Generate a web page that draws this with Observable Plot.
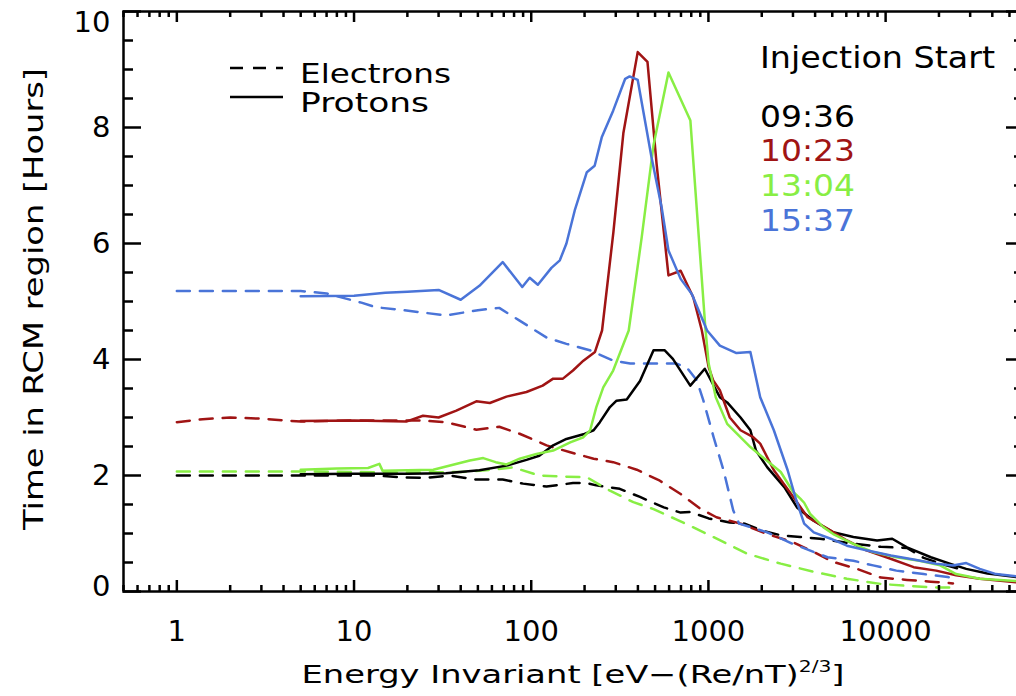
<!DOCTYPE html>
<html><head><meta charset="utf-8">
<script src="https://cdn.jsdelivr.net/npm/d3@7"></script>
<script src="https://cdn.jsdelivr.net/npm/@observablehq/plot@0.6"></script>
<style>
html,body{margin:0;padding:0;background:#fff;overflow:hidden;}
#chart svg{display:block;max-width:none !important;}
</style></head><body><div id="chart"></div>
<script>
// Injection start times and their colours
const times = ["09:36", "10:23", "13:04", "15:37"];
const colors = ["#000000", "#a01414", "#88ee44", "#4a74d8"];
const xMajorTicks = [1, 10, 100, 1000, 10000];
const yMajorTicks = [0, 2, 4, 6, 8, 10];

// Electrons (dashed): [energy invariant, hours]
const electrons_0936 = [[1,2.0],[2,2.0],[5,2.0],[10,2.0],[13.3,2.0],[18,1.97],[25.5,1.96],[34.6,2.0],[49,1.93],[69,1.93],[90,1.86],[122,1.81],[172,1.87],[206,1.87],[233,1.83],[316,1.77],[411,1.63],[560,1.45],[697,1.36],[790,1.37],[1003,1.26],[1320,1.19],[1600,1.17],[2000,1.05],[2560,0.97],[3300,0.94],[4270,0.91],[6050,0.84],[9400,0.77],[13200,0.75],[16400,0.58],[22000,0.45],[28500,0.36]];
const electrons_1023 = [[1,2.92],[1.4,2.97],[2,3.0],[3,2.98],[5,2.93],[10,2.95],[23,2.95],[33,2.92],[49,2.79],[66,2.84],[86,2.72],[122,2.52],[166,2.40],[225,2.29],[290,2.23],[394,2.10],[532,1.91],[697,1.68],[897,1.43],[1110,1.28],[1518,1.17],[2150,0.99],[3000,0.85],[3930,0.68],[5060,0.51],[6900,0.39],[9400,0.24],[13200,0.20],[18000,0.17],[24000,0.14]];
const electrons_1304 = [[1,2.07],[2,2.07],[5,2.07],[10,2.06],[20,2.05],[40,2.06],[60,2.1],[79,2.14],[111,2.0],[158,1.98],[206,1.97],[266,1.77],[377,1.54],[490,1.42],[662,1.24],[897,1.05],[1064,0.94],[1660,0.65],[2560,0.48],[3930,0.34],[6050,0.22],[9400,0.13],[14400,0.09],[19300,0.07],[25000,0.07]];
const electrons_1537 = [[1,5.18],[2,5.18],[5,5.18],[7,5.14],[9,5.05],[11,4.98],[13.3,4.9],[18,4.86],[33,4.76],[50,4.85],[66,4.89],[86,4.67],[122,4.38],[158,4.27],[214,4.16],[291,3.98],[362,3.93],[490,3.93],[662,3.93],[760,3.85],[860,3.64],[937,3.29],[1070,2.66],[1217,2.09],[1380,1.40],[1490,1.17],[2150,1.02],[3000,0.82],[4700,0.59],[6580,0.53],[8500,0.45],[11500,0.36],[16400,0.30],[22400,0.25],[25000,0.22]];

// Protons (solid)
const protons_0936 = [[5,2.02],[10,2.03],[20,2.03],[33,2.04],[51,2.09],[72.5,2.17],[94,2.27],[111,2.34],[133,2.52],[158,2.63],[197,2.71],[225,2.78],[244,2.92],[278,3.18],[303,3.29],[346,3.31],[377,3.47],[411,3.63],[490,4.16],[565,4.16],[630,4.01],[790,3.55],[954,3.84],[1160,3.35],[1276,3.26],[1518,3.0],[1725,2.78],[1855,2.43],[2150,2.14],[2680,1.80],[3160,1.45],[3930,1.22],[5060,1.02],[6580,0.94],[8950,0.88],[10900,0.91],[13200,0.76],[18000,0.59],[23000,0.48],[28500,0.39],[37600,0.31],[55000,0.25],[60000,0.24]];
const protons_1023 = [[5,2.94],[10,2.95],[19.7,2.93],[24.5,3.03],[30,3.0],[37.8,3.12],[49,3.28],[58.4,3.25],[72.5,3.36],[94,3.44],[116,3.55],[133,3.67],[151,3.67],[172,3.81],[197,3.98],[229,4.13],[251,4.5],[291,6.2],[331,7.9],[399,9.30],[453,9.13],[510,7.37],[595,5.45],[697,5.53],[822,5.07],[918,4.5],[1003,3.87],[1064,3.64],[1160,3.47],[1320,3.0],[1518,2.78],[1790,2.66],[1960,2.55],[2340,2.09],[2930,1.68],[3630,1.28],[4900,1.05],[6050,0.88],[7790,0.71],[10100,0.59],[14400,0.42],[19300,0.36],[25000,0.28],[34000,0.22],[55000,0.16],[60000,0.15]];
const protons_1304 = [[5,2.1],[8,2.12],[12,2.13],[13.9,2.2],[14.5,2.08],[20,2.09],[28,2.1],[45,2.26],[53.6,2.3],[63,2.23],[72.5,2.19],[86,2.29],[107,2.37],[133,2.43],[166,2.57],[197,2.66],[215,2.78],[233,3.18],[255,3.52],[290,3.81],[355,4.5],[420,6.1],[490,7.7],[595,8.95],[791,8.12],[960,4.56],[1003,3.93],[1100,3.35],[1276,2.89],[1725,2.49],[2560,2.06],[3000,1.72],[3300,1.6],[3470,1.53],[3750,1.34],[4450,1.11],[5060,0.99],[6580,0.82],[8500,0.68],[11500,0.59],[15500,0.53],[20300,0.45],[25000,0.30],[34000,0.22],[55000,0.18],[60000,0.17]];
const protons_1537 = [[5,5.09],[10,5.1],[15,5.15],[20,5.17],[30,5.2],[40,5.03],[51,5.27],[69,5.68],[89,5.25],[98,5.41],[109,5.29],[130,5.58],[145,5.71],[158,6.0],[176,6.57],[206,7.23],[228,7.34],[250,7.83],[290,8.29],[339,8.84],[359,8.88],[399,8.82],[477,7.49],[544,6.63],[595,5.88],[697,5.39],[806,5.13],[983,4.5],[1160,4.24],[1440,4.11],[1725,4.13],[1960,3.35],[2340,2.78],[2800,2.09],[3090,1.63],[3470,1.17],[3930,1.02],[4900,0.91],[6050,0.79],[7790,0.71],[10700,0.62],[14400,0.55],[19300,0.48],[24000,0.45],[28500,0.49],[34000,0.39],[42000,0.30],[55000,0.26],[60000,0.25]];

const electronSeries = [electrons_0936, electrons_1023, electrons_1304, electrons_1537];
const protonSeries = [protons_0936, protons_1023, protons_1304, protons_1537];
const toRows = list => list.flatMap((s, i) => s.map(([x, y]) => ({x, y, time: times[i]})));
const elecRows = toRows(electronSeries);
const protRows = toRows(protonSeries);

// minor ticks (axis structure)
const minorX = [];
for (let e = -1; e <= 4; e++) for (let m = 2; m <= 9; m++) { const v = m * Math.pow(10, e); if (v >= 0.5 && v <= 60000) minorX.push(v); }
const minorY = d3.range(0.5, 10, 0.5).filter(v => v % 2 !== 0);

const plotH = 696 - 11 - 105;
const tk = {stroke: "black", strokeWidth: 2.5};
const chart = Plot.plot({
  width: 1030, height: 696,
  marginTop: 11, marginBottom: 105, marginLeft: 123, marginRight: 7,
  x: {type: "log", domain: [0.5, 60000]},
  y: {domain: [0, 10]},
  color: {domain: times, range: colors},
  style: {fontFamily: "DejaVu Sans"},
  marks: [
    Plot.line(elecRows, {x: "x", y: "y", z: "time", stroke: "time", strokeWidth: 2.5, strokeDasharray: "13,10"}),
    Plot.line(protRows, {x: "x", y: "y", z: "time", stroke: "time", strokeWidth: 2.5}),
    // inward ticks on all four sides
    Plot.tickX(xMajorTicks, {x: d => d, ...tk, insetTop: plotH - 11}),
    Plot.tickX(minorX, {x: d => d, ...tk, insetTop: plotH - 6}),
    Plot.tickX(xMajorTicks, {x: d => d, ...tk, insetBottom: plotH - 11}),
    Plot.tickX(minorX, {x: d => d, ...tk, insetBottom: plotH - 6}),
    Plot.axisY({anchor: "left", ticks: yMajorTicks, tickSize: -18, ...tk, fill: "none", label: null}),
    Plot.axisY({anchor: "left", ticks: minorY, tickSize: -10, ...tk, fill: "none", label: null}),
    Plot.axisY({anchor: "right", ticks: yMajorTicks, tickSize: -18, ...tk, fill: "none", label: null}),
    Plot.axisY({anchor: "right", ticks: minorY, tickSize: -10, ...tk, fill: "none", label: null}),
    // tick labels
    Plot.axisX({anchor: "bottom", ticks: xMajorTicks, tickSize: 0, tickPadding: 29, tickFormat: d => String(d), fontSize: 29, label: null}),
    Plot.axisY({anchor: "left", ticks: [2, 4, 6, 8], tickSize: 0, tickPadding: 13, tickFormat: d => String(d), fontSize: 29, label: null}),
    Plot.axisY({anchor: "left", ticks: [10], tickSize: 0, tickPadding: 13, dy: 11, tickFormat: d => String(d), fontSize: 29, label: null}),
    Plot.axisY({anchor: "left", ticks: [0], tickSize: 0, tickPadding: 13, dy: -5, tickFormat: d => String(d), fontSize: 29, label: null}),
    Plot.frame({stroke: "black", strokeWidth: 2.5})
  ]
});
document.getElementById("chart").appendChild(chart);

// Titles and legends
const svg = d3.select(chart);
const font = "DejaVu Sans";
const xt = svg.append("text").attr("x", 573).attr("y", 683).attr("text-anchor", "middle")
  .attr("font-family", font).attr("font-size", 25).attr("fill", "#000")
  .attr("textLength", 543).attr("lengthAdjust", "spacingAndGlyphs");
xt.append("tspan").text("Energy Invariant [eV\u2212(Re/nT)");
xt.append("tspan").attr("font-size", 15).attr("dy", -11).text("2/3");
xt.append("tspan").attr("dy", 11).text("]");

svg.append("text").attr("transform", "translate(43,299) rotate(-90)").attr("text-anchor", "middle")
  .attr("font-family", font).attr("font-size", 27).attr("fill", "#000")
  .attr("textLength", 462).attr("lengthAdjust", "spacingAndGlyphs")
  .text("Time in RCM region [Hours]");

const lg = svg.append("g").attr("text-anchor", "start").attr("font-family", font);
lg.append("line").attr("x1", 230).attr("x2", 283).attr("y1", 68).attr("y2", 68)
  .attr("stroke", "#000").attr("stroke-width", 2.5).attr("stroke-dasharray", "13,10");
lg.append("line").attr("x1", 230).attr("x2", 283).attr("y1", 97).attr("y2", 97)
  .attr("stroke", "#000").attr("stroke-width", 2.5);
lg.append("text").attr("x", 300).attr("y", 83).attr("text-anchor", "start").attr("font-size", 27)
  .attr("textLength", 151).attr("lengthAdjust", "spacingAndGlyphs").text("Electrons");
lg.append("text").attr("x", 300).attr("y", 112).attr("text-anchor", "start").attr("font-size", 27)
  .attr("textLength", 129).attr("lengthAdjust", "spacingAndGlyphs").text("Protons");

lg.append("text").attr("x", 760).attr("y", 68).attr("text-anchor", "start").attr("font-size", 30)
  .attr("textLength", 235).attr("lengthAdjust", "spacingAndGlyphs").text("Injection Start");
const timeBaselines = [127, 161, 196, 231];
times.forEach((t, i) => {
  lg.append("text").attr("x", 760).attr("y", timeBaselines[i]).attr("text-anchor", "start")
    .attr("font-size", 31).attr("fill", colors[i])
    .attr("textLength", 95).attr("lengthAdjust", "spacingAndGlyphs").text(t);
});
</script></body></html>
